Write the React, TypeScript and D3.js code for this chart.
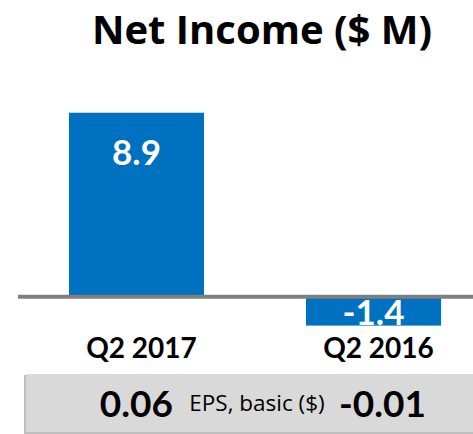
import React from 'react';
import * as d3 from 'd3';

const categories = ['Q2 2017', 'Q2 2016'];
const netIncome = [8.9, -1.4];
const epsBasic = [0.06, -0.01];
const title = 'Net Income ($ M)';
const epsLabel = 'EPS, basic ($)';

const W = 473;
const H = 434;
const FONT = 'Lato, Carlito, "Open Sans", sans-serif';
const WIDE = '"Open Sans", Lato, sans-serif';
const BLUE = '#0070c0';

const App = () => {
  const x = d3.scaleBand<string>().domain(categories).range([18, 492]).paddingInner(0.43).paddingOuter(0.215);
  const y = d3.scaleLinear().domain([-2, 10]).range([338, 90]);
  const bw = x.bandwidth();

  return (
    <svg width={W} height={H} style={{ position: 'absolute', left: 0, top: 0, background: '#fff' }}>
      <text x={262} y={44} textAnchor="middle" fontFamily={WIDE} fontWeight={700} fontSize={40} fill="#000">
        {title}
      </text>

      {categories.map((c, i) => {
        const v = netIncome[i];
        const y0 = y(Math.max(v, 0));
        const y1 = y(Math.min(v, 0));
        const cx = (x(c) ?? 0) + bw / 2;
        return (
          <g key={c}>
            <rect x={x(c)} y={y0} width={bw} height={y1 - y0} fill={BLUE} />
            <text
              x={cx}
              y={v >= 0 ? y0 + 52 : y1 - 1}
              textAnchor="middle"
              fontFamily={FONT}
              fontWeight={700}
              fontSize={35}
              fill="#fff"
            >
              {d3.format('.1f')(v).replace('−', '-')}
            </text>
            <text x={cx + 5} y={358} textAnchor="middle" fontFamily={FONT} fontWeight={700} fontSize={28} fill="#000">
              {c}
            </text>
          </g>
        );
      })}

      <line x1={18} x2={W} y1={y(0)} y2={y(0)} stroke="#7f7f7f" strokeWidth={4} />

      <rect x={24} y={375} width={W} height={59} fill="#bfbfbf" />
      <rect x={26} y={374} width={W} height={58} fill="#d9d9d9" />
      <text x={173} y={417} textAnchor="end" fontFamily={FONT} fontWeight={700} fontSize={37} fill="#000">
        {d3.format('.2f')(epsBasic[0]).replace('−', '-')}
      </text>
      <text x={257} y={411} textAnchor="middle" fontFamily={WIDE} fontSize={22.5} fill="#000">
        {epsLabel}
      </text>
      <text x={339} y={417} textAnchor="start" fontFamily={FONT} fontWeight={700} fontSize={37} fill="#000">
        {d3.format('.2f')(epsBasic[1]).replace('−', '-')}
      </text>
    </svg>
  );
};

export default App;
